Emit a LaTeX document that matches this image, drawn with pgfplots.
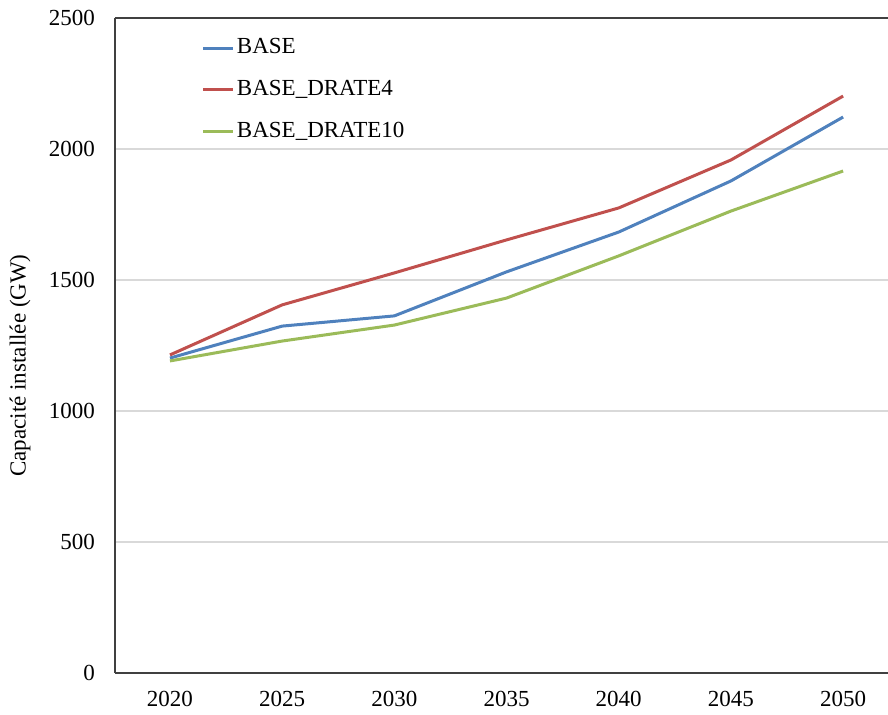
\documentclass[border=0pt]{standalone}
\usepackage{fontspec}
\setmainfont{Liberation Serif}
\usepackage{pgfplots}
\pgfplotsset{compat=1.18}

\definecolor{cBase}{HTML}{4F81BD}
\definecolor{cD4}{HTML}{C0504D}
\definecolor{cD10}{HTML}{9BBB59}
\definecolor{cGrid}{HTML}{D9D9D9}
\definecolor{cAxis}{HTML}{404040}

\begin{document}
\fontsize{11.5}{14}\selectfont
\begin{tikzpicture}
% picture frame: 888 x 715 px at 0.5pt per px
\path[use as bounding box] (-57.5pt,-21pt) rectangle (386.5pt,336.5pt);
\begin{axis}[
  scale only axis,
  width=386.5pt, height=327.5pt,
  xmin=-0.49, xmax=6.4,
  ymin=0, ymax=2500,
  xtick={0,1,2,3,4,5,6},
  xticklabels={2020,2025,2030,2035,2040,2045,2050},
  ytick={0,500,1000,1500,2000,2500},
  axis x line=box,
  axis y line=left,
  axis line style={-, cAxis, line width=0.8pt},
  major tick length=0pt,
  ymajorgrids,
  grid style={cGrid, line width=0.6pt},
  /pgf/number format/assume math mode=true,
  /pgf/number format/1000 sep={},
  yticklabel style={xshift=-6pt},
  xticklabel style={yshift=-5pt},
  ylabel={Capacité installée (GW)},
  every axis y label/.style={at={([xshift=-47.5pt,yshift=-10pt]axis description cs:0,0.5)}, rotate=90, anchor=center},
  legend style={draw=none, fill=none, at={(axis description cs:0.112,0.975)}, anchor=north west,
    inner sep=0pt, row sep=7.5pt, cells={anchor=west}, nodes={inner xsep=1pt}},
  legend cell align=left,
  legend image code/.code={\draw[#1] (0pt,0pt) -- (15pt,0pt);},
  every axis plot/.append style={line width=1.5pt, mark=none},
]
\addplot[cBase] coordinates {(0,1202) (1,1324) (2,1363) (3,1531) (4,1683) (5,1878) (6,2122)};
\addplot[cD4] coordinates {(0,1214) (1,1405) (2,1527) (3,1653) (4,1775) (5,1958) (6,2202)};
\addplot[cD10] coordinates {(0,1191) (1,1267) (2,1328) (3,1431) (4,1592) (5,1763) (6,1916)};
\legend{BASE,BASE\_DRATE4,BASE\_DRATE10}
\end{axis}
\end{tikzpicture}
\end{document}
